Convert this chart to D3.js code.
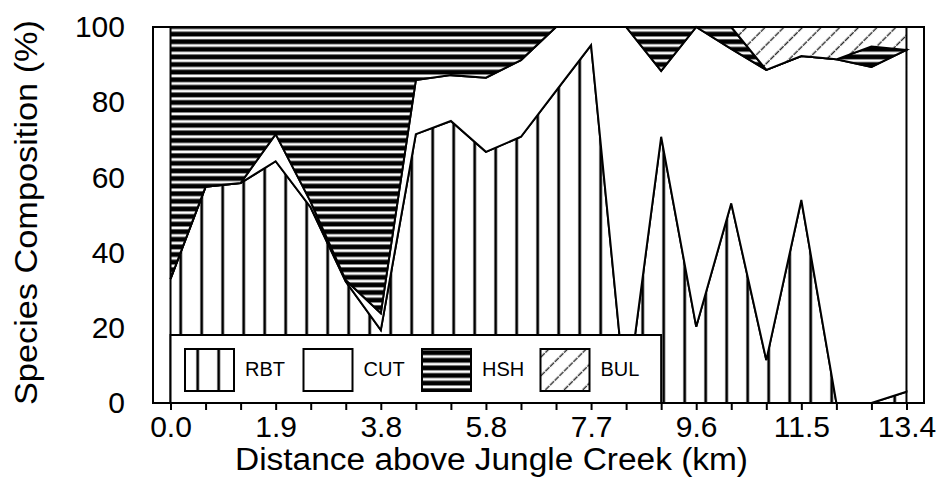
<!DOCTYPE html>
<html>
<head>
<meta charset="utf-8">
<script src="https://cdn.jsdelivr.net/npm/d3@7/dist/d3.min.js"></script>
<style>
  html, body { margin: 0; padding: 0; background: #fff; }
  svg { display: block; font-family: Arial, "Liberation Sans", sans-serif; }
</style>
</head>
<body>
<svg id="chart" width="943" height="489"></svg>
<script>
// Sampling sites along the stream (22 sites, evenly spaced)
const sites = [0, 1, 2, 3, 4, 5, 6, 7, 8, 9, 10, 11, 12, 13, 14, 15, 16, 17, 18, 19, 20, 21];
const labelSites = [0, 3, 6, 9, 12, 15, 18, 21];
const labelKm = ["0.0", "1.9", "3.8", "5.8", "7.7", "9.6", "11.5", "13.4"];
const yTicks = [0, 20, 40, 60, 80, 100];

// Species composition (%) at each site
const species = ["RBT", "CUT", "HSH", "BUL"];
const RBT = [33, 57.5, 58.5, 64.3, 52, 32.3, 19.4, 71.5, 75, 66.8, 70.8, 83, 95.2, 0, 70.8, 20.3, 53.1, 11.4, 54, 0, 0, 3];
const CUT = [0, 0, 0, 7.2, 1.5, 0.4, 4.5, 14.4, 12.2, 19.7, 20.4, 17, 4.8, 100, 17.5, 79.7, 41.1, 77.2, 38.3, 91.4, 89.4, 90.9];
const HSH = [67, 42.5, 41.5, 28.5, 46.5, 67.3, 76.1, 14.1, 12.8, 13.5, 8.8, 0, 0, 0, 11.7, 0, 5.8, 0, 0, 0, 5.4, 0];
const BUL = [0, 0, 0, 0, 0, 0, 0, 0, 0, 0, 0, 0, 0, 0, 0, 0, 0, 11.4, 7.7, 8.6, 5.2, 6.1];

const table = sites.map((s, i) => ({ site: s, RBT: RBT[i], CUT: CUT[i], HSH: HSH[i], BUL: BUL[i] }));

const svg = d3.select("#chart");
const frame = { left: 153, right: 924, top: 27, bottom: 403 };

const x = d3.scaleLinear().domain([-0.5, 21.5]).range([frame.left, frame.right]);
const y = d3.scaleLinear().domain([0, 100]).range([frame.bottom, frame.top]);

// ---- fill patterns ----
const defs = svg.append("defs");

// vertical bars
const pV = defs.append("pattern").attr("id", "pat-RBT")
  .attr("patternUnits", "userSpaceOnUse").attr("width", 21).attr("height", 10);
pV.append("rect").attr("width", 21).attr("height", 10).attr("fill", "#fff");
pV.append("rect").attr("x", 10.9).attr("width", 3.6).attr("height", 10).attr("fill", "#8f8f8f");
pV.append("rect").attr("x", 11.7).attr("width", 2.0).attr("height", 10).attr("fill", "#000");

// plain white
const pW = defs.append("pattern").attr("id", "pat-CUT")
  .attr("patternUnits", "userSpaceOnUse").attr("width", 10).attr("height", 10);
pW.append("rect").attr("width", 10).attr("height", 10).attr("fill", "#fff");

// horizontal bands
const pH = defs.append("pattern").attr("id", "pat-HSH")
  .attr("patternUnits", "userSpaceOnUse").attr("width", 10).attr("height", 7.6);
pH.append("rect").attr("width", 10).attr("height", 7.6).attr("fill", "#fff");
pH.append("rect").attr("y", 0.9).attr("width", 10).attr("height", 5.6).attr("fill", "#7a7a7a");
pH.append("rect").attr("y", 1.7).attr("width", 10).attr("height", 4.0).attr("fill", "#000");

// diagonal hatch
const pD = defs.append("pattern").attr("id", "pat-BUL")
  .attr("patternUnits", "userSpaceOnUse").attr("width", 13.2).attr("height", 13.2)
  .attr("patternTransform", "rotate(45)");
pD.append("rect").attr("width", 13.2).attr("height", 13.2).attr("fill", "#fff");
pD.append("line").attr("x1", 6).attr("x2", 6).attr("y1", 0).attr("y2", 13.2)
  .attr("stroke", "#2a2a2a").attr("stroke-width", 1.4).attr("stroke-dasharray", "5.6 1");

// ---- stacked areas ----
const stack = d3.stack().keys(species);
const layers = stack(table);

const area = d3.area()
  .x(d => x(d.data.site))
  .y0(d => y(d[0]))
  .y1(d => y(d[1]));

svg.append("g").selectAll("path")
  .data(layers)
  .join("path")
  .attr("d", area)
  .attr("fill", d => `url(#pat-${d.key})`)
  .attr("stroke", "#000")
  .attr("stroke-width", 2)
  .attr("stroke-linejoin", "miter");

// ---- frame ----
svg.append("rect")
  .attr("x", frame.left).attr("y", frame.top)
  .attr("width", frame.right - frame.left).attr("height", frame.bottom - frame.top)
  .attr("fill", "none").attr("stroke", "#000").attr("stroke-width", 2);

// ---- legend ----
const legend = svg.append("g");
legend.append("rect")
  .attr("x", x(0)).attr("y", 335)
  .attr("width", x(14) - x(0)).attr("height", frame.bottom - 335)
  .attr("fill", "#fff").attr("stroke", "#000").attr("stroke-width", 2);

const legendItems = legend.selectAll("g.item")
  .data(species)
  .join("g")
  .attr("class", "item")
  .attr("transform", (d, i) => `translate(${185 + i * 118.5},349)`);
legendItems.append("rect")
  .attr("width", 49).attr("height", 42)
  .attr("fill", d => `url(#pat-${d})`)
  .attr("stroke", "#000").attr("stroke-width", 2);
legendItems.append("text")
  .attr("x", 60).attr("y", 26.5)
  .attr("font-size", 20)
  .attr("fill", "#000")
  .text(d => d);

// ---- axes ----
const labelFor = new Map(labelSites.map((s, i) => [s, labelKm[i]]));
const xAxis = d3.axisBottom(x)
  .tickValues(sites)
  .tickFormat(s => labelFor.get(s) || "")
  .tickSize(7)
  .tickPadding(6);
const gx = svg.append("g")
  .attr("transform", `translate(0,${frame.bottom})`)
  .call(xAxis);
gx.select(".domain").remove();
gx.selectAll(".tick line").attr("stroke", "#000").attr("stroke-width", 2);
gx.selectAll(".tick text").attr("font-size", 30).attr("font-family", "Arial, 'Liberation Sans', sans-serif").attr("fill", "#000");

const yAxis = d3.axisLeft(y)
  .tickValues(yTicks)
  .tickSize(0)
  .tickPadding(28);
const gy = svg.append("g")
  .attr("transform", `translate(${frame.left},0)`)
  .call(yAxis);
gy.select(".domain").remove();
gy.selectAll(".tick text").attr("font-size", 30).attr("font-family", "Arial, 'Liberation Sans', sans-serif").attr("fill", "#000");

// ---- axis titles ----
svg.append("text")
  .attr("x", 491.5).attr("y", 470)
  .attr("text-anchor", "middle")
  .attr("font-size", 31)
  .attr("textLength", 513)
  .attr("lengthAdjust", "spacingAndGlyphs")
  .attr("fill", "#000")
  .text("Distance above Jungle Creek (km)");

svg.append("text")
  .attr("transform", "translate(37,212.5) rotate(-90)")
  .attr("text-anchor", "middle")
  .attr("font-size", 32)
  .attr("textLength", 385)
  .attr("lengthAdjust", "spacingAndGlyphs")
  .attr("fill", "#000")
  .text("Species Composition (%)");
</script>
</body>
</html>
